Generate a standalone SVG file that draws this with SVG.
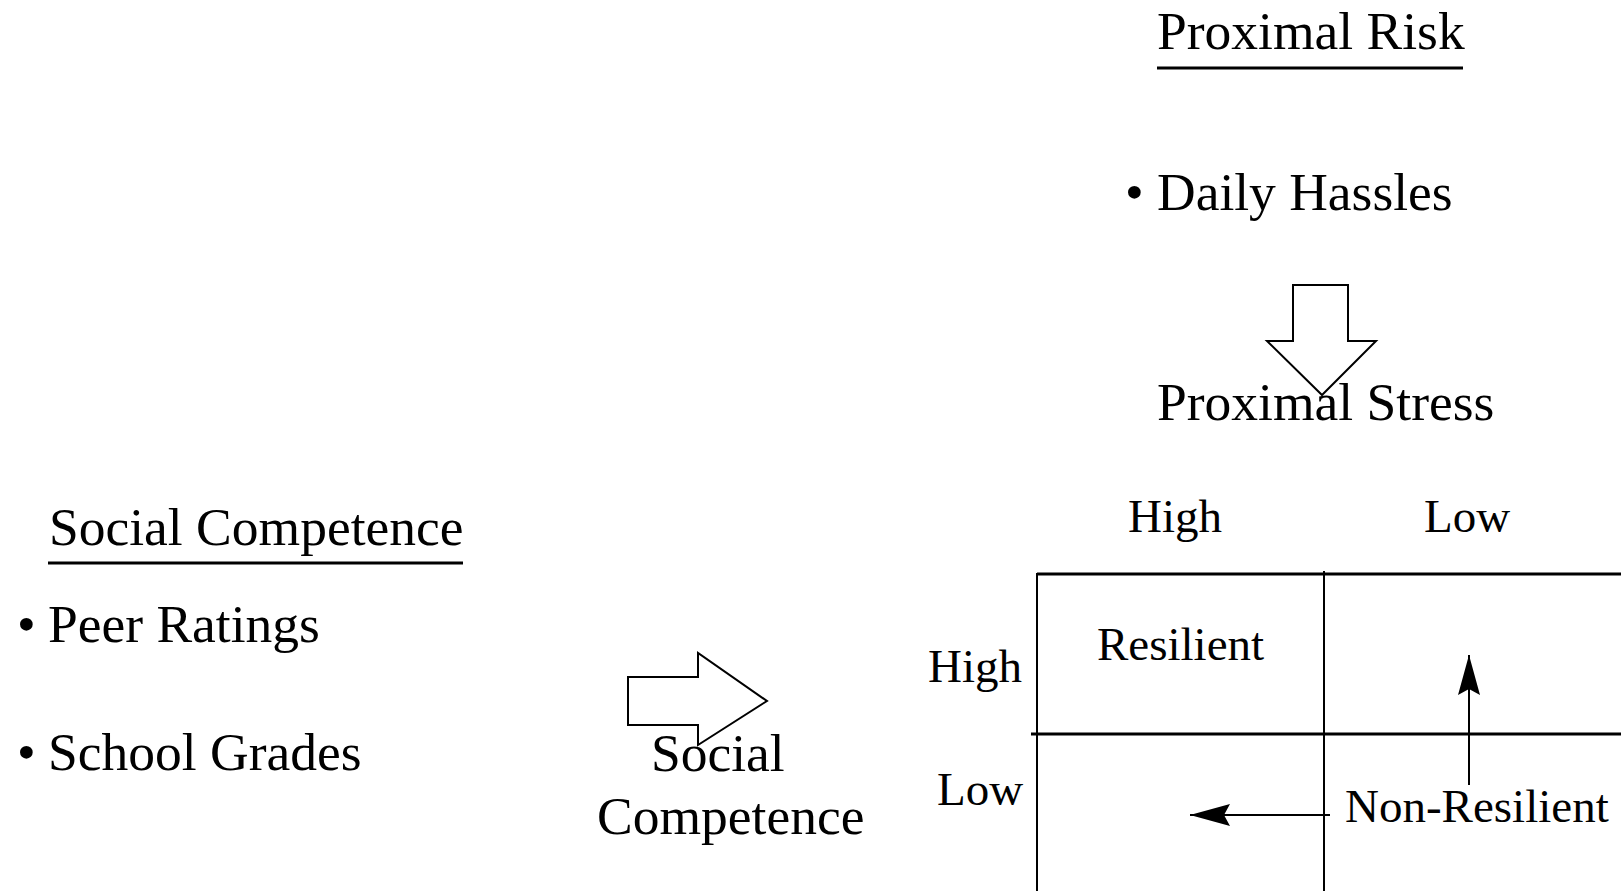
<svg xmlns="http://www.w3.org/2000/svg" width="1621" height="891" viewBox="0 0 1621 891">
<style>
  .t { font-family: "Liberation Serif", "Times New Roman", serif; fill: #000; }
  .big { font-size: 53.5px; }
  .mid { font-size: 47px; }
  .ul { stroke: #000; stroke-width: 3; }
  .blk { fill: none; stroke: #000; stroke-width: 2; stroke-linejoin: miter; }
  .grid-h { stroke: #000; stroke-width: 3; }
  .grid-v { stroke: #000; stroke-width: 2; }
  .conn { stroke: #000; stroke-width: 2; fill: none; }
</style>
<defs>
  <marker id="ah" markerUnits="userSpaceOnUse" markerWidth="40" markerHeight="24" refX="40" refY="12" orient="auto">
    <path d="M0,1 L40,12 L0,23 L6,12 z" fill="#000"/>
  </marker>
</defs>
<rect width="1621" height="891" fill="#fff"/>

<g id="proximal-risk">
  <text class="t big" x="1157" y="49">Proximal Risk</text>
  <line class="ul" x1="1157" y1="68" x2="1463" y2="68"/>
  <text class="t big" x="1125" y="210">•</text>
  <text class="t big" x="1157" y="210">Daily Hassles</text>
</g>

<g id="social-competence-measures">
  <text class="t big" x="49" y="545">Social Competence</text>
  <line class="ul" x1="48" y1="563" x2="463" y2="563"/>
  <text class="t big" x="17" y="642">•</text>
  <text class="t big" x="48" y="642">Peer Ratings</text>
  <text class="t big" x="17" y="770">•</text>
  <text class="t big" x="48" y="770">School Grades</text>
</g>

<g id="proximal-stress">
  <text class="t big" x="1157" y="420">Proximal Stress</text>
  <text class="t mid" x="1128" y="532">High</text>
  <text class="t mid" x="1424" y="532">Low</text>
</g>

<g id="social-competence-axis">
  <text class="t big" x="651" y="771">Social</text>
  <text class="t big" x="597" y="834">Competence</text>
  <text class="t mid" x="928" y="682">High</text>
  <text class="t mid" x="937" y="805">Low</text>
</g>

<g id="grid">
  <line class="grid-h" x1="1037" y1="574" x2="1621" y2="574"/>
  <line class="grid-h" x1="1031" y1="734" x2="1621" y2="734"/>
  <line class="grid-v" x1="1037" y1="573" x2="1037" y2="891"/>
  <line class="grid-v" x1="1324" y1="571" x2="1324" y2="891"/>
</g>

<g id="resilient">
  <text class="t mid" x="1097" y="660">Resilient</text>
</g>

<g id="non-resilient">
  <text class="t mid" x="1345" y="822">Non-Resilient</text>
</g>

<g id="connectors">
  <path class="blk" d="M1293,285 L1348,285 L1348,341 L1376,341 L1322,395 L1267,341 L1293,341 Z"/>
  <path class="blk" d="M628,677 L698,677 L698,653 L767,701 L698,745 L698,725 L628,725 Z"/>
  <line class="conn" x1="1469" y1="785" x2="1469" y2="655" marker-end="url(#ah)"/>
  <line class="conn" x1="1330" y1="815" x2="1190" y2="815" marker-end="url(#ah)"/>
</g>
</svg>
